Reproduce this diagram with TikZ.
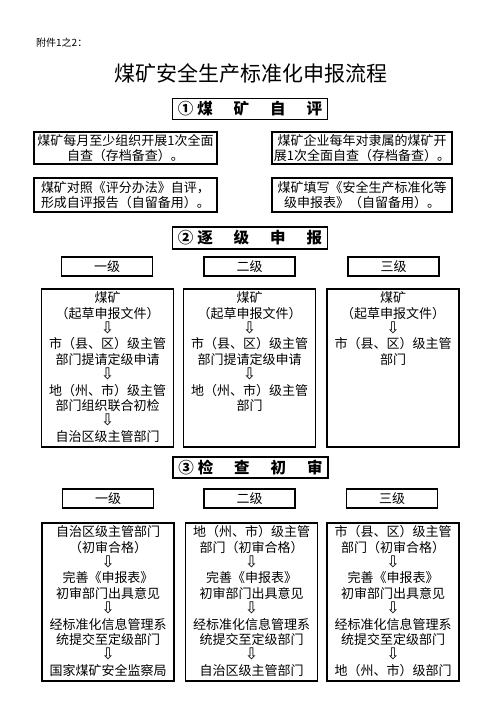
\documentclass[tikz,border=0pt]{standalone}
\usepackage{fontspec}
\setmainfont{Noto Sans CJK SC}
\newfontfamily\arrowfont{DejaVu Sans}
\usetikzlibrary{positioning}
\tikzset{
every node/.style = {font=\fontsize{13}{15.4}\selectfont, inner sep=0pt},
framebox/.style = {draw, line width=1.1pt, align=center},
stepbox/.style = {framebox, minimum width=155pt, minimum height=21pt,
                  font=\fontsize{15.5}{18}\selectfont\bfseries},
levelbox/.style = {framebox, minimum width=91pt, minimum height=19pt},
flowbox/.style = {framebox, minimum width=#1, minimum height=158pt},
flowbox/.default = 132pt,
flowtext/.style = {align=center, anchor=north}
}
\newcommand{\dn}{{\arrowfont\fontsize{16}{10}\selectfont ⇩}}
\newcommand{\stepname}[5]{#1\hspace{4pt}#2\hspace{21pt}#3\hspace{21pt}#4\hspace{21pt}#5}
\newcommand{\flowcol}[3]{\node[flowbox] (#1) at (#2) {};
  \node[flowtext, below=3pt of #1.north] (#1t) {#3};}

\begin{document}
\begin{tikzpicture}[x=1pt, y=-1pt]
    \useasboundingbox (0,0) rectangle (503,726);

    \node[anchor=west, font=\fontsize{10}{12}\selectfont] (att) at (36,43) {附件1之2：};
    \node[font=\fontsize{21}{24}\selectfont] (title) at (251,73) {煤矿安全生产标准化申报流程};

    % step 1
    \node[stepbox] (s1) at (250,109) {\stepname{①}{煤}{矿}{自}{评}};
    \node[framebox, minimum width=183pt, minimum height=32pt] (ea) at (125.5,148)
        {煤矿每月至少组织开展1次全面\\自查（存档备查）。};
    \node[framebox, minimum width=180pt, minimum height=32pt] (eb) at (362,148)
        {煤矿企业每年对隶属的煤矿开\\展1次全面自查（存档备查）。};
    \node[framebox, minimum width=183pt, minimum height=34pt] (ec) at (125.5,195)
        {煤矿对照《评分办法》自评，\\形成自评报告（自留备用）。};
    \node[framebox, minimum width=180pt, minimum height=34pt] (ed) at (362,195)
        {煤矿填写《安全生产标准化等\\级申报表》（自留备用）。};

    % step 2
    \node[stepbox, minimum height=22pt] (s2) at (250,238) {\stepname{②}{逐}{级}{申}{报}};
    \node[levelbox] (ra) at (107,266.5) {一级};
    \node[levelbox] (rb) at (249.5,266.5) {二级};
    \node[levelbox] (rc) at (393.5,266.5) {三级};

    \flowcol{fa}{107.5,368}{煤矿\\（起草申报文件）\\\dn\\市（县、区）级主管\\部门提请定级申请\\\dn\\地（州、市）级主管\\部门组织联合初检\\\dn\\自治区级主管部门}
    \flowcol{fb}{249.5,368}{煤矿\\（起草申报文件）\\\dn\\市（县、区）级主管\\部门提请定级申请\\\dn\\地（州、市）级主管\\部门}
    \flowcol{fc}{393,368}{煤矿\\（起草申报文件）\\\dn\\市（县、区）级主管\\部门}

    % step 3
    \node[stepbox] (s3) at (250.5,467.5) {\stepname{③}{检}{查}{初}{审}};
    \node[levelbox] (ca) at (108,498.5) {一级};
    \node[levelbox] (cb) at (249.5,498.5) {二级};
    \node[levelbox] (cc) at (392,498.5) {三级};

    \flowcol{ga}{108,602}{自治区级主管部门\\（初审合格）\\\dn\\完善《申报表》\\初审部门出具意见\\\dn\\经标准化信息管理系\\统提交至定级部门\\\dn\\国家煤矿安全监察局}
    \flowcol{gb}{251.5,602}{地（州、市）级主管\\部门（初审合格）\\\dn\\完善《申报表》\\初审部门出具意见\\\dn\\经标准化信息管理系\\统提交至定级部门\\\dn\\自治区级主管部门}
    \flowcol{gc}{393,602}{市（县、区）级主管\\部门（初审合格）\\\dn\\完善《申报表》\\初审部门出具意见\\\dn\\经标准化信息管理系\\统提交至定级部门\\\dn\\地（州、市）级部门}
\end{tikzpicture}
\end{document}
